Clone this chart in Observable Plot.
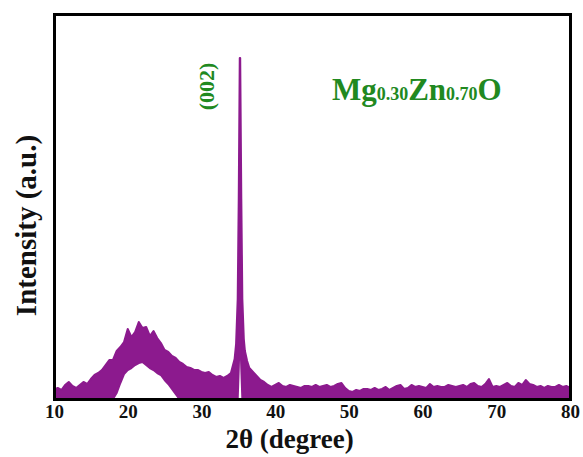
<!DOCTYPE html>
<html><head><meta charset="utf-8">
<script src="https://cdn.jsdelivr.net/npm/d3@7"></script>
<script src="https://cdn.jsdelivr.net/npm/@observablehq/plot@0.6"></script>
<style>body{margin:0;background:#fff} svg{display:block}</style>
</head><body><div id="chart"></div>
<script>
// 2θ sampling positions (degree)
const twoTheta = [
  10,10.5,11,11.5,12,12.5,13,13.5,14,14.5,15,15.5,16,16.5,17,17.5,18,18.5,19,19.5,
  20,20.5,21,21.5,22,22.5,23,23.5,24,24.5,25,25.5,26,26.5,27,27.5,28,28.5,29,29.5,
  30,30.5,31,31.5,32,32.5,33,33.5,34,
  34.5,34.7,34.92,35.06,35.2,35.26,35.41,35.55,35.75,35.9,36.2,
  36.5,37,37.5,38,38.5,39,39.5,40,
  40.5,41,41.5,42,42.5,43,43.5,44,44.5,45,45.5,46,46.5,47,47.5,48,48.5,49,49.5,50,
  50.5,51,51.5,52,52.5,53,53.5,54,54.5,55,55.5,56,56.5,57,57.5,58,58.5,59,59.5,60,
  60.5,61,61.5,62,62.5,63,63.5,64,64.5,65,65.5,66,66.5,67,67.5,68,68.5,69,69.5,70,
  70.5,71,71.5,72,72.5,73,73.5,74,74.5,75,75.5,76,76.5,77,77.5,78,78.5,79,79.5,80
];
// upper envelope of the noisy trace (a.u.)
const intensityTop = [
  9,11,9,14,17,13,11,14,17,15,20,24,26,29,34,39,39,48,52,57,
  70,62,67,77,71,72,63,68,61,56,49,47,43,41,37,35,32,31,29,29,
  27,26,27,24,22,23,21,23,26,
  40,55,100,200,341,341,200,100,60,48,38,
  31,27,23,19,17,14,12,14,
  16,13,12,14,13,12,11,13,13,12,14,12,13,14,12,13,15,16,11,8,
  7,9,8,10,10,9,11,9,10,12,9,11,13,14,10,11,14,12,13,12,
  11,15,12,13,12,12,14,13,12,13,14,12,15,16,13,12,15,20,12,13,
  12,14,16,13,12,16,14,19,15,14,12,13,11,13,12,12,14,12,13,11
];
// lower envelope of the noisy trace (a.u.)
const intensityBottom = [
  0,0,0,0,0,0,0,0,0,0,0,0,0,0,0,0,0,6,16,25,
  29,31,34,36,37,34,31,29,26,24,19,15,10,5,0,0,0,0,0,0,
  0,0,0,0,0,0,0,0,0,
  0,0,0,30,64,64,30,0,0,0,0,
  0,0,0,0,0,0,0,0,
  0,0,0,0,0,0,0,0,0,0,0,0,0,0,0,0,0,0,0,0,
  0,0,0,0,0,0,0,0,0,0,0,0,0,0,0,0,0,0,0,0,
  0,0,0,0,0,0,0,0,0,0,0,0,0,0,0,0,0,0,0,0,
  0,0,0,0,0,0,0,0,0,0,0,0,0,0,0,0,0,0,0,0
];
const xTicks = [10,20,30,40,50,60,70,80];
const xTitle = "2θ (degree)";
const yTitle = "Intensity (a.u.)";
const peakLabel = "(002)";
const peakLabelAt = [30.62, 313];
const formulaParts = [["Mg", "big"], ["0.30", "small"], ["Zn", "big"], ["0.70", "small"], ["O", "big"]];
const formulaAt = [47.7, 299];

const purple = "#8c1a8e";
const green = "#21891f";
const font = "'Liberation Serif','Times New Roman',serif";

const rows = twoTheta.map((x, i) => ({x, top: intensityTop[i], bottom: intensityBottom[i]}));

const plot = Plot.plot({
  width: 583, height: 457,
  marginLeft: 54, marginRight: 13, marginTop: 14, marginBottom: 58,
  style: {fontFamily: font, background: "#fff", color: "#111", fontSize: "19px"},
  x: {domain: [10, 80]},
  y: {domain: [0, 385], axis: null},
  marks: [
    Plot.areaY(rows, {x: "x", y1: "bottom", y2: "top", fill: purple, stroke: purple, strokeWidth: 2, strokeLinejoin: "round"}),
    Plot.frame({stroke: "#000", strokeWidth: 3}),
    Plot.axisX({ticks: xTicks, tickSize: 0, tickPadding: 5, tickFormat: d => String(d), fontSize: 19, fontWeight: "bold", label: null}),
    Plot.text([{t: xTitle, x: 41.9}], {x: "x", text: "t", frameAnchor: "bottom", lineAnchor: "middle", textAnchor: "middle", dy: 40, fontSize: 27, fontWeight: "bold", fill: "#111"}),
    Plot.text([{t: yTitle, y: 174}], {y: "y", text: "t", frameAnchor: "left", lineAnchor: "middle", textAnchor: "middle", dx: -28, rotate: -90, fontSize: 29, fontWeight: "bold", fill: "#111"}),
    Plot.text([{t: peakLabel, x: peakLabelAt[0], y: peakLabelAt[1]}], {x: "x", y: "y", text: "t", rotate: -90, fontSize: 22, fontWeight: "bold", fill: green})
  ]
});

const sx = plot.scale("x"), sy = plot.scale("y");
const ft = d3.select(plot).append("text")
  .attr("x", sx.apply(formulaAt[0]))
  .attr("y", sy.apply(formulaAt[1]))
  .attr("text-anchor", "start")
  .attr("fill", green)
  .attr("font-weight", "bold")
  .attr("font-family", font);
for (const [s, kind] of formulaParts) {
  ft.append("tspan").attr("font-size", kind === "big" ? 31 : 18).text(s);
}
document.getElementById("chart").append(plot);
</script>
</body></html>
